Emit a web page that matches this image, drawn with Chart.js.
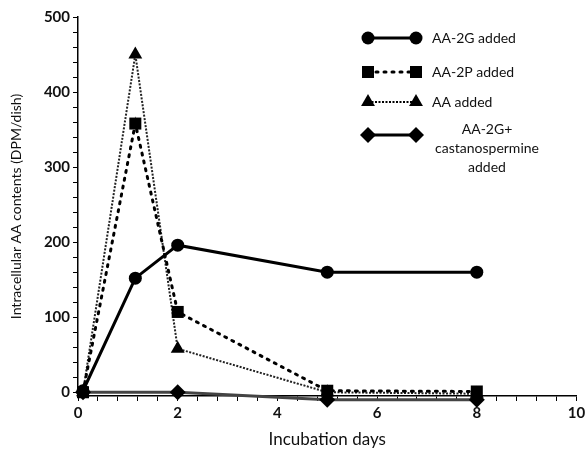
<!DOCTYPE html>
<html>
<head>
<meta charset="utf-8">
<script src="https://cdn.jsdelivr.net/npm/chart.js@4.4.1/dist/chart.umd.min.js"></script>
<style>
  html, body { margin: 0; padding: 0; background: #fff; }
  #wrap { width: 585px; height: 454px; }
</style>
</head>
<body>
<div id="wrap"><canvas id="incubation_chart" width="585" height="454"></canvas></div>
<script>
'use strict';

// Data
const days = [0.1, 1.15, 2, 5, 8];
const aa2g = [2, 152, 196, 160, 160];
const aa2p = [0, 358, 107, 2, 1];
const aaOnly = [0, 450, 58, 0, -2];
const aa2gCast = [0, null, 0, -10, -10];
const xTickLabels = [0, 2, 4, 6, 8, 10];
const yTickLabels = [0, 100, 200, 300, 400, 500];
const seriesNames = ['AA-2G added', 'AA-2P added', 'AA added', ['AA-2G+', 'castanospermine', 'added']];

const font = 'Lato, "DejaVu Sans", sans-serif';

function toPoints(values) {
  return days.map((d, i) => ({ x: d, y: values[i] })).filter(p => p.y !== null);
}

// Legend drawn inside the plot, top right
const boxLegend = {
  id: 'boxLegend',
  afterDraw(chart) {
    const ctx = chart.ctx;
    const rows = [38, 72, 102, 135];
    chart.data.datasets.forEach((ds, i) => {
      const y = rows[i];
      ctx.save();
      ctx.strokeStyle = '#000';
      ctx.lineWidth = ds.borderWidth;
      ctx.setLineDash(ds.borderDash || []);
      ctx.lineCap = ds.borderCapStyle || 'butt';
      ctx.beginPath();
      ctx.moveTo(368, y);
      ctx.lineTo(416, y);
      ctx.stroke();
      ctx.setLineDash([]);
      [368, 416].forEach(x => drawMarker(ctx, ds.pointStyle, x, y, ds.pointRadius));
      ctx.fillStyle = '#111';
      ctx.font = '14px ' + font;
      ctx.textBaseline = 'middle';
      const name = seriesNames[i];
      if (Array.isArray(name)) {
        ctx.textAlign = 'center';
        name.forEach((t, k) => ctx.fillText(t, 487, y - 6 + k * 19));
      } else {
        ctx.textAlign = 'left';
        ctx.fillText(name, 432, y);
      }
      ctx.restore();
    });
  }
};

// same geometry as Chart.js point styles
function drawMarker(ctx, style, x, y, r) {
  ctx.fillStyle = '#000';
  ctx.beginPath();
  if (style === 'circle') {
    ctx.arc(x, y, r, 0, Math.PI * 2);
  } else if (style === 'rect') {
    const h = r * Math.SQRT1_2;
    ctx.rect(x - h, y - h, h * 2, h * 2);
  } else if (style === 'triangle') {
    ctx.moveTo(x, y - r);
    ctx.lineTo(x + r * 0.866, y + r * 0.5);
    ctx.lineTo(x - r * 0.866, y + r * 0.5);
  } else {
    ctx.moveTo(x, y - r);
    ctx.lineTo(x + r, y);
    ctx.lineTo(x, y + r);
    ctx.lineTo(x - r, y);
  }
  ctx.closePath();
  ctx.fill();
}

const common = {
  borderColor: '#000',
  backgroundColor: '#000',
  pointBackgroundColor: '#000',
  pointBorderColor: '#000',
  pointBorderWidth: 0,
  clip: false
};

new Chart(document.getElementById('incubation_chart'), {
  type: 'line',
  data: {
    datasets: [{
      ...common,
      label: 'AA-2G added',
      data: toPoints(aa2g),
      borderWidth: 3,
      pointStyle: 'circle',
      pointRadius: 6.5
    }, {
      ...common,
      label: 'AA-2P added',
      data: toPoints(aa2p),
      borderWidth: 3,
      borderDash: [2, 6],
      borderCapStyle: 'round',
      pointStyle: 'rect',
      pointRadius: 8.5
    }, {
      ...common,
      label: 'AA added',
      data: toPoints(aaOnly),
      borderColor: '#222',
      borderWidth: 2,
      borderDash: [2, 1.5],
      pointStyle: 'triangle',
      pointRadius: 8
    }, {
      ...common,
      label: 'AA-2G+ castanospermine added',
      data: toPoints(aa2gCast),
      borderColor: '#444',
      borderWidth: 3,
      pointStyle: 'rectRot',
      pointRadius: 8
    }]
  },
  options: {
    responsive: false,
    animation: false,
    layout: { padding: { top: 17, right: 0, left: 4, bottom: 0 } },
    elements: { line: { tension: 0 } },
    plugins: {
      legend: { display: false },
      tooltip: { enabled: false }
    },
    scales: {
      x: {
        type: 'linear',
        min: 0,
        max: 10,
        afterFit: s => { s.height = 58; s.paddingRight = 0; s.paddingLeft = 0; },
        border: { display: true, color: '#000', width: 1.5 },
        grid: { drawOnChartArea: false, drawTicks: true, tickLength: 5, color: '#000' },
        ticks: {
          stepSize: 0.4,
          autoSkip: false,
          maxRotation: 0,
          color: '#111',
          font: { family: font, size: 15, weight: 'bold' },
          callback: v => {
            const hit = xTickLabels.find(t => Math.abs(t - v) < 1e-6);
            return hit === undefined ? '' : String(hit);
          }
        },
        title: {
          display: true,
          text: 'Incubation days',
          color: '#111',
          font: { family: font, size: 17 },
          padding: { top: 0 }
        }
      },
      y: {
        min: -5,
        max: 500,
        afterFit: s => { s.width = 74; s.paddingTop = 0; s.paddingBottom = 0; },
        afterBuildTicks: s => {
          const t = [];
          for (let v = 0; v <= 500; v += 20) t.push({ value: v });
          s.ticks = t;
        },
        border: { display: true, color: '#000', width: 1.5 },
        grid: { drawOnChartArea: false, drawTicks: true, tickLength: 5, color: '#000' },
        ticks: {
          autoSkip: false,
          color: '#111',
          font: { family: font, size: 15, weight: 'bold' },
          callback: v => yTickLabels.includes(v) ? String(v) : ''
        },
        title: {
          display: true,
          text: 'Intracellular AA contents (DPM/dish)',
          color: '#111',
          font: { family: font, size: 14 },
          padding: { bottom: 2 }
        }
      }
    }
  },
  plugins: [boxLegend]
});
</script>
</body>
</html>
